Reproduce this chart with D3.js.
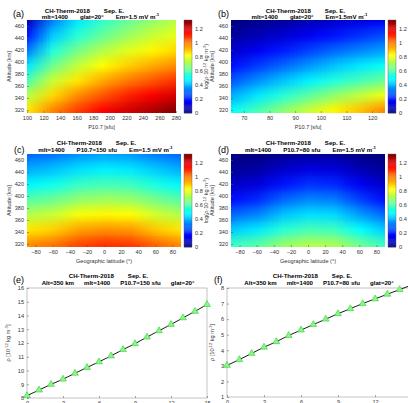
<!DOCTYPE html>
<html>
<head>
<meta charset="utf-8">
<script src="https://cdn.jsdelivr.net/npm/d3@7"></script>
<style>
  body { margin: 0; background: #fff; }
  svg { display: block; font-family: "Liberation Sans", Arial, sans-serif; }
</style>
</head>
<body>
<svg id="chart" width="408" height="403"></svg>
<script>
// ---- data ----
// grid rows follow altitudeGrid (top to bottom), columns follow the x grid
const altitudeGrid = [470, 445, 420, 395, 370, 345, 320];
const f107GridA = [100, 130, 160, 190, 220, 250, 280];
const f107GridB = [65, 75, 85, 95, 105, 115, 125];
const latGrid = [-90, -60, -30, 0, 30, 60, 90];

const logRhoA = [
  [0.08, 0.33, 0.47, 0.56, 0.63, 0.69, 0.74],
  [0.20, 0.43, 0.55, 0.63, 0.70, 0.76, 0.80],
  [0.33, 0.54, 0.65, 0.73, 0.79, 0.84, 0.88],
  [0.47, 0.64, 0.75, 0.83, 0.89, 0.94, 0.98],
  [0.60, 0.76, 0.86, 0.94, 1.00, 1.05, 1.10],
  [0.74, 0.88, 0.98, 1.05, 1.12, 1.17, 1.22],
  [0.86, 0.99, 1.08, 1.16, 1.22, 1.27, 1.32]
];
const logRhoB = [
  [0.00, 0.02, 0.04, 0.07, 0.10, 0.13, 0.16],
  [0.04, 0.07, 0.11, 0.15, 0.19, 0.23, 0.27],
  [0.10, 0.15, 0.20, 0.25, 0.30, 0.34, 0.38],
  [0.18, 0.24, 0.30, 0.36, 0.42, 0.47, 0.51],
  [0.28, 0.35, 0.42, 0.48, 0.54, 0.59, 0.64],
  [0.39, 0.47, 0.55, 0.62, 0.69, 0.75, 0.81],
  [0.50, 0.59, 0.68, 0.76, 0.84, 0.91, 0.99]
];
const logRhoC = [
  [0.30, 0.32, 0.36, 0.38, 0.37, 0.33, 0.30],
  [0.39, 0.42, 0.46, 0.48, 0.47, 0.43, 0.39],
  [0.49, 0.52, 0.57, 0.59, 0.58, 0.53, 0.49],
  [0.61, 0.64, 0.69, 0.71, 0.70, 0.65, 0.61],
  [0.73, 0.76, 0.82, 0.84, 0.83, 0.77, 0.73],
  [0.86, 0.89, 0.95, 0.97, 0.96, 0.90, 0.86],
  [0.98, 1.01, 1.07, 1.10, 1.09, 1.03, 0.98]
];
const logRhoD = [
  [0.00, 0.00, 0.02, 0.04, 0.04, 0.01, 0.00],
  [0.03, 0.05, 0.10, 0.13, 0.12, 0.07, 0.03],
  [0.09, 0.12, 0.19, 0.23, 0.22, 0.15, 0.09],
  [0.18, 0.22, 0.30, 0.34, 0.33, 0.25, 0.18],
  [0.30, 0.34, 0.42, 0.46, 0.45, 0.37, 0.30],
  [0.43, 0.47, 0.55, 0.59, 0.58, 0.50, 0.43],
  [0.57, 0.61, 0.69, 0.73, 0.72, 0.64, 0.57]
];

const emValues = [0, 1, 2, 3, 4, 5, 6, 7, 8, 9, 10, 11, 12, 13, 14, 15];
const rhoE = [8.17, 8.58, 8.99, 9.37, 9.80, 10.22, 10.63, 11.06, 11.52, 11.95, 12.43, 12.89, 13.35, 13.83, 14.30, 14.80];
const rhoF = [3.03, 3.40, 3.80, 4.20, 4.55, 4.95, 5.30, 5.65, 6.00, 6.35, 6.67, 7.00, 7.30, 7.60, 7.90, 8.20];

const altTicks = [320, 340, 360, 380, 400, 420, 440, 460];
const f107TicksA = [100, 120, 140, 160, 180, 200, 220, 240, 260, 280];
const f107TicksB = [70, 80, 90, 100, 110, 120];
const latTicks = [-80, -60, -40, -20, 0, 20, 40, 60, 80];
const cbTicks = [0, 0.2, 0.4, 0.6, 0.8, 1, 1.2];
const emTicks = [0, 3, 6, 9, 12, 15];
const rhoTicksE = [8, 9, 10, 11, 12, 13, 14, 15, 16];
const rhoTicksF = [1, 2, 3, 4, 5, 6, 7, 8];

// ---- setup ----
let svg = d3.select("#chart");
let tickFont = 5.6;
let tickColor = "#333";
let cbMax = 1.33;
let fmt = d3.format("~g");

function jet(t) {
    let c = v => Math.max(0, Math.min(1, v));
    let r = c(1.5 - Math.abs(4 * t - 3));
    let g = c(1.5 - Math.abs(4 * t - 2));
    let b = c(1.5 - Math.abs(4 * t - 1));
    return d3.rgb(r * 255, g * 255, b * 255).toString();
}
let color = d3.scaleSequential(jet).domain([0, cbMax]);

// text with ^{...} superscripts
function richText(sel, str, size) {
    let parts = str.split(/(\^\{[^}]*\})/);
    let up = false;
    parts.forEach(p => {
        if (!p) return;
        if (p.startsWith("^{")) {
            sel.append("tspan").attr("dy", -size * 0.4).style("font-size", size * 0.7 + "px").text(p.slice(2, -1));
            up = true;
        } else {
            sel.append("tspan").attr("dy", up ? size * 0.4 : 0).style("font-size", size + "px").text(p);
            up = false;
        }
    });
}

// each title line is a few word groups with a fixed gap, centred on x
function drawTitle(lines, letter, letterX, letterY) {
    lines.forEach(l => {
        let parts = l.groups.map(txt => {
            let t = svg.append("text").attr("y", l.y)
                .style("font-weight", "bold").style("fill", "#000");
            richText(t, txt, 6.1);
            return t;
        });
        let widths = parts.map(t => t.node().getComputedTextLength());
        let total = d3.sum(widths) + l.gap * (parts.length - 1);
        let start = l.x - total / 2;
        parts.forEach((t, i) => {
            t.attr("x", start);
            start += widths[i] + l.gap;
        });
    });
    svg.append("text")
        .attr("x", letterX).attr("y", letterY)
        .text(letter)
        .style("font-size", "9px")
        .style("fill", "#000");
}

function styleAxis(g) {
    g.select(".domain").remove();
    g.selectAll(".tick line").attr("stroke", "#555").attr("stroke-width", 0.5);
    g.selectAll(".tick text").style("font-size", tickFont + "px").style("fill", tickColor)
        .style("font-family", "Liberation Sans, Arial, sans-serif");
}

let clipCount = 0;

function drawHeat(p) {
    let x = d3.scaleLinear().domain(p.xDomain).range([p.left, p.right]);
    let y = d3.scaleLinear().domain([315, 470]).range([p.bottom, p.top]);

    // small raster of grid values, stretched by the browser (smooth shading)
    let nx = p.xGrid.length, ny = altitudeGrid.length;
    let canvas = document.createElement("canvas");
    canvas.width = nx; canvas.height = ny;
    let ctx = canvas.getContext("2d");
    p.values.forEach((row, j) => row.forEach((v, i) => {
        ctx.fillStyle = color(v);
        ctx.fillRect(i, j, 1, 1);
    }));
    let dx = Math.abs(x(p.xGrid[1]) - x(p.xGrid[0]));
    let dy = Math.abs(y(altitudeGrid[1]) - y(altitudeGrid[0]));

    let id = "clip" + (clipCount++);
    svg.append("clipPath").attr("id", id)
        .append("rect").attr("x", p.left).attr("y", p.top)
        .attr("width", p.right - p.left).attr("height", p.bottom - p.top);
    svg.append("image")
        .attr("clip-path", "url(#" + id + ")")
        .attr("href", canvas.toDataURL())
        .attr("x", x(p.xGrid[0]) - dx / 2)
        .attr("y", y(altitudeGrid[0]) - dy / 2)
        .attr("width", x(p.xGrid[nx - 1]) - x(p.xGrid[0]) + dx)
        .attr("height", y(altitudeGrid[ny - 1]) - y(altitudeGrid[0]) + dy)
        .attr("preserveAspectRatio", "none");

    svg.append("g").attr("transform", "translate(" + p.left + ",0)")
        .call(d3.axisLeft(y).tickValues(altTicks).tickFormat(fmt).tickSize(-2).tickPadding(3))
        .call(styleAxis);
    svg.append("g").attr("transform", "translate(0," + p.bottom + ")")
        .call(d3.axisBottom(x).tickValues(p.xTicks).tickFormat(fmt).tickSize(-2).tickPadding(3))
        .call(styleAxis);

    svg.append("text")
        .attr("transform", "translate(" + p.yLabelX + "," + ((p.top + p.bottom) / 2) + ") rotate(-90)")
        .attr("text-anchor", "middle")
        .style("font-size", "5.6px").style("fill", tickColor)
        .text("Altitude [km]");
    svg.append("text")
        .attr("x", (p.left + p.right) / 2).attr("y", p.bottom + 16)
        .attr("text-anchor", "middle")
        .style("font-size", "5.6px").style("fill", tickColor)
        .text(p.xLabel);

    // colorbar
    let cb = d3.scaleLinear().domain([0, cbMax]).range([p.bottom, p.top]);
    let steps = d3.range(0, 100).map(i => i / 100 * cbMax);
    svg.selectAll(null).data(steps).enter().append("rect")
        .attr("x", p.cbX).attr("width", 8)
        .attr("y", d => cb(d + cbMax / 100))
        .attr("height", d => cb(d) - cb(d + cbMax / 100) + 0.3)
        .attr("fill", d => color(d + cbMax / 200));
    svg.append("rect").attr("x", p.cbX).attr("y", p.top).attr("width", 8).attr("height", p.bottom - p.top)
        .attr("fill", "none").attr("stroke", "#555").attr("stroke-width", 0.4);
    svg.append("g").attr("transform", "translate(" + (p.cbX + 8) + ",0)")
        .call(d3.axisRight(cb).tickValues(cbTicks).tickFormat(fmt).tickSize(0).tickPadding(3))
        .call(styleAxis);
    if (p.cbLabel) {
        let lab = svg.append("text")
            .attr("transform", "translate(" + (p.cbX + 24) + "," + ((p.top + p.bottom) / 2) + ") rotate(-90)")
            .attr("text-anchor", "middle")
            .style("fill", tickColor);
        richText(lab, "log(ρ·10^{-12} kg m^{-3})", 5.6);
    }
}

function drawLine(p) {
    let x = d3.scaleLinear().domain([0, 15]).range([p.left, p.left + p.xSpan]);
    let y = d3.scaleLinear().domain(p.yDomain).range([p.bottom, p.top]);

    let id = "clip" + (clipCount++);
    svg.append("clipPath").attr("id", id)
        .append("rect").attr("x", p.left - 4).attr("y", p.top - 4)
        .attr("width", p.xSpan + 8).attr("height", p.bottom - p.top + 8);

    svg.append("rect").attr("x", p.left).attr("y", p.top)
        .attr("width", p.xSpan).attr("height", p.bottom - p.top)
        .attr("fill", "#fff").attr("stroke", "#888").attr("stroke-width", 0.5);

    svg.append("g").attr("transform", "translate(" + p.left + ",0)")
        .call(d3.axisLeft(y).tickValues(p.yTicks).tickFormat(fmt).tickSize(-2).tickPadding(3))
        .call(styleAxis);
    svg.append("g").attr("transform", "translate(0," + p.bottom + ")")
        .call(d3.axisBottom(x).tickValues(emTicks).tickFormat(fmt).tickSize(-2).tickPadding(3))
        .call(styleAxis);

    let pts = emValues.map((e, i) => ({x: e, y: p.values[i]}));
    let g = svg.append("g").attr("clip-path", "url(#" + id + ")");
    g.append("path").datum(pts)
        .attr("d", d3.line().x(d => x(d.x)).y(d => y(d.y)))
        .attr("fill", "none").attr("stroke", "#1a1a1a").attr("stroke-width", 1);
    g.selectAll(null).data(pts).enter().append("path")
        .attr("transform", d => "translate(" + x(d.x) + "," + y(d.y) + ")")
        .attr("d", d3.symbol(d3.symbolTriangle, 20))
        .attr("fill", "#8af58a").attr("stroke", "#2fcf2f").attr("stroke-width", 0.6);

    let lab = svg.append("text")
        .attr("transform", "translate(" + p.yLabelX + "," + ((p.top + p.bottom) / 2) + ") rotate(-90)")
        .attr("text-anchor", "middle")
        .style("fill", tickColor);
    richText(lab, "ρ [10^{-12} kg m^{-3}]", 5.6);
}

// ---- panels ----
drawHeat({left: 27, right: 176, top: 20, bottom: 113, xDomain: [100, 280], xGrid: f107GridA,
    values: logRhoA, xTicks: f107TicksA, xLabel: "P10.7 [sfu]", yLabelX: 11, cbX: 184, cbLabel: true});
drawTitle([{x: 84.5, y: 12.5, gap: 14, groups: ["CH-Therm-2018", "Sep. E."]},
           {x: 100.5, y: 18.8, gap: 12, groups: ["mlt=1400", "glat=20°", "Em=1.5 mV m^{-1}"]}], "(a)", 13, 17);

drawHeat({left: 231, right: 385, top: 20, bottom: 113, xDomain: [65, 125], xGrid: f107GridB,
    values: logRhoB, xTicks: f107TicksB, xLabel: "P10.7 [sfu]", yLabelX: 214, cbX: 388, cbLabel: false});
drawTitle([{x: 305.5, y: 12.5, gap: 14, groups: ["CH-Therm-2018", "Sep. E."]},
           {x: 309.5, y: 18.8, gap: 12, groups: ["mlt=1400", "glat=20°", "Em=1.5mV m^{-1}"]}], "(b)", 218, 17);

drawHeat({left: 27, right: 181, top: 154, bottom: 247, xDomain: [-90, 90], xGrid: latGrid,
    values: logRhoC, xTicks: latTicks, xLabel: "Geographic latitude (°)", yLabelX: 11, cbX: 184, cbLabel: true});
drawTitle([{x: 96.5, y: 145, gap: 14, groups: ["CH-Therm-2018", "Sep. E."]},
           {x: 105.5, y: 151.5, gap: 12, groups: ["mlt=1400", "P10.7=150 sfu", "Em=1.5 mV m^{-1}"]}], "(c)", 14, 153);

drawHeat({left: 231, right: 385, top: 154, bottom: 247, xDomain: [-90, 90], xGrid: latGrid,
    values: logRhoD, xTicks: latTicks, xLabel: "Geographic latitude (°)", yLabelX: 214, cbX: 388, cbLabel: false});
drawTitle([{x: 305.5, y: 145, gap: 14, groups: ["CH-Therm-2018", "Sep. E."]},
           {x: 310.5, y: 151.5, gap: 12, groups: ["mlt=1400", "P10.7=80 sfu", "Em=1.5 mV m^{-1}"]}], "(d)", 218, 153);

drawLine({left: 27, xSpan: 180, top: 288, bottom: 398, yDomain: [8, 16], yTicks: rhoTicksE,
    values: rhoE, yLabelX: 10});
drawTitle([{x: 108.5, y: 277.5, gap: 14, groups: ["CH-Therm-2018", "Sep. E."]},
           {x: 118, y: 285, gap: 10, groups: ["Alt=350 km", "mlt=1400", "P10.7=150 sfu", "glat=20°"]}], "(e)", 13, 283);

drawLine({left: 227, xSpan: 185, top: 288, bottom: 397, yDomain: [1, 8], yTicks: rhoTicksF,
    values: rhoF, yLabelX: 214});
drawTitle([{x: 312.5, y: 277.5, gap: 14, groups: ["CH-Therm-2018", "Sep. E."]},
           {x: 319, y: 285, gap: 10, groups: ["Alt=350 km", "mlt=1400", "P10.7=80 sfu", "glat=20°"]}], "(f)", 214, 283);
</script>
</body>
</html>
